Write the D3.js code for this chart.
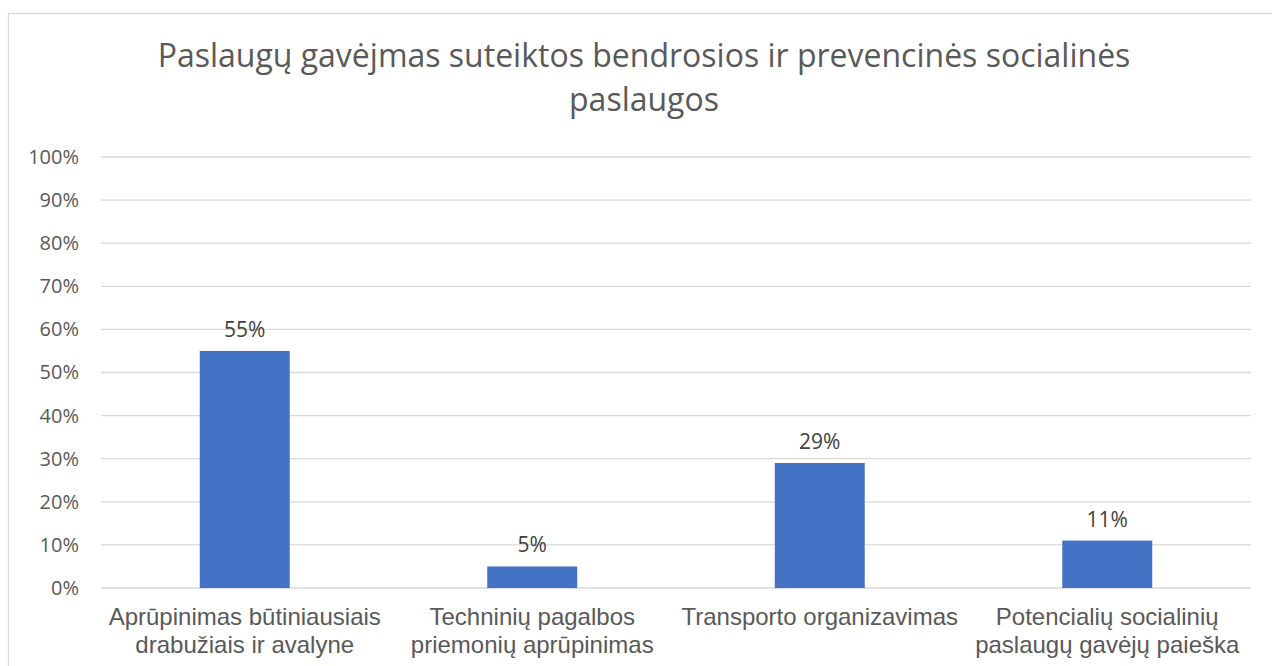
<!DOCTYPE html>
<html>
<head>
<meta charset="utf-8">
<script src="https://cdn.jsdelivr.net/npm/d3@7"></script>
<style>
    body { margin: 0; background: #fff; }
    svg { display: block; }
</style>
</head>
<body>
<div id="chart"></div>
<script>
const titleLines = ["Paslaugų gavėjmas suteiktos bendrosios ir prevencinės socialinės", "paslaugos"];
const categories = [
    ["Aprūpinimas būtiniausiais", "drabužiais ir avalyne"],
    ["Techninių pagalbos", "priemonių aprūpinimas"],
    ["Transporto organizavimas"],
    ["Potencialių socialinių", "paslaugų gavėjų paieška"]
];
const values = [55, 5, 29, 11];
const yTicks = [0, 10, 20, 30, 40, 50, 60, 70, 80, 90, 100];

const width = 1272, height = 666;
const margin = {top: 157, right: 21, bottom: 78, left: 101};

const svg = d3.select("#chart").append("svg")
    .attr("width", width)
    .attr("height", height);

// chart frame
svg.append("rect")
    .attr("x", 8.5).attr("y", 13.5)
    .attr("width", width + 10).attr("height", height + 10)
    .attr("fill", "none")
    .attr("stroke", "#d9d9d9")
    .attr("stroke-width", 1.3);

svg.append("text")
    .attr("text-anchor", "middle")
    .attr("font-family", "'Open Sans', sans-serif")
    .attr("font-size", 32)
    .attr("fill", "#595959")
    .selectAll("tspan")
    .data(titleLines)
    .join("tspan")
    .attr("x", 644)
    .attr("y", (d, i) => 67 + i * 44)
    .text(d => d);

const g = svg.append("g")
    .attr("transform", `translate(${margin.left}, ${margin.top})`);

const plotW = width - margin.left - margin.right;
const plotH = height - margin.top - margin.bottom;

const x = d3.scaleBand()
    .domain(d3.range(categories.length))
    .range([0, plotW])
    .paddingInner(0.687)
    .paddingOuter(0.3435);

const y = d3.scaleLinear()
    .domain([0, 100])
    .range([plotH, 0]);

// gridlines
g.selectAll(".grid")
    .data(yTicks)
    .join("line")
    .attr("class", "grid")
    .attr("x1", 0).attr("x2", plotW)
    .attr("y1", d => y(d)).attr("y2", d => y(d))
    .attr("stroke", "#d9d9d9")
    .attr("stroke-width", 1.3);

const yAxis = d3.axisLeft(y).tickValues(yTicks).tickFormat(d => d + "%").tickSize(0).tickPadding(22);
g.append("g")
    .call(yAxis)
    .call(a => a.select(".domain").remove())
    .selectAll("text")
    .attr("font-family", "'Open Sans', sans-serif")
    .attr("font-size", 20)
    .attr("fill", "#595959");

g.selectAll(".bar")
    .data(values)
    .join("rect")
    .attr("class", "bar")
    .attr("x", (d, i) => x(i))
    .attr("width", x.bandwidth())
    .attr("y", d => y(d))
    .attr("height", d => plotH - y(d))
    .attr("fill", "#4472c4");

g.selectAll(".val")
    .data(values)
    .join("text")
    .attr("class", "val")
    .attr("x", (d, i) => x(i) + x.bandwidth() / 2)
    .attr("y", d => y(d) - 14)
    .attr("text-anchor", "middle")
    .attr("font-family", "'Open Sans', sans-serif")
    .attr("font-size", 21)
    .attr("fill", "#404040")
    .text(d => d + "%");

// category labels
const labels = g.selectAll(".cat")
    .data(categories)
    .join("text")
    .attr("class", "cat")
    .attr("text-anchor", "middle")
    .attr("font-family", "'Liberation Sans', Arial, sans-serif")
    .attr("font-size", 24)
    .attr("fill", "#595959");

labels.selectAll("tspan")
    .data((d, i) => d.map(t => ({t, i})))
    .join("tspan")
    .attr("x", d => x(d.i) + x.bandwidth() / 2)
    .attr("y", (d, j) => plotH + 37 + j * 28)
    .text(d => d.t);
</script>
</body>
</html>
